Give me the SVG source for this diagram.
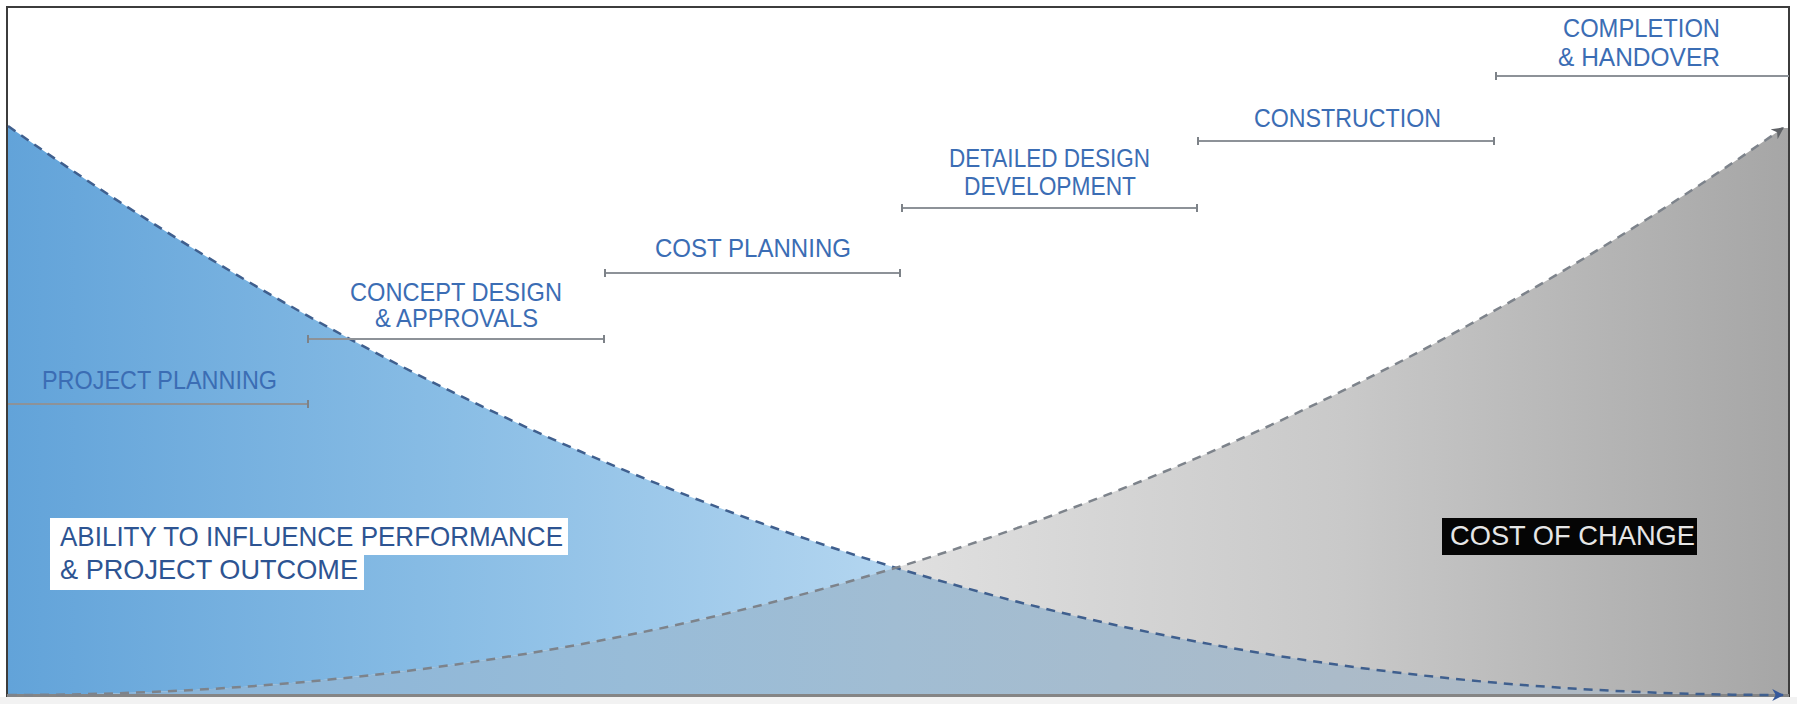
<svg xmlns="http://www.w3.org/2000/svg" width="1797" height="704" viewBox="0 0 1797 704">
  <style>
    .phase { font-family: "Liberation Sans", Arial, sans-serif; font-size: 25px; fill: #3b6db4; text-anchor: middle; }
    .callout { font-family: "Liberation Sans", Arial, sans-serif; font-size: 28px; }
    .span { fill: none; stroke: #8d9298; stroke-width: 2; }
    .tick { fill: none; stroke: #7d8288; stroke-width: 2; }
    .curve { fill: none; stroke-width: 2.5; stroke-dasharray: 9 7; }
  </style>
  <defs>
    <linearGradient id="blueFill" gradientUnits="userSpaceOnUse" x1="8" y1="0" x2="898" y2="0">
      <stop offset="0" stop-color="#62a3d9"/>
      <stop offset="0.5" stop-color="#89bde5"/>
      <stop offset="1" stop-color="#b4d6f0"/>
    </linearGradient>
    <linearGradient id="grayFill" gradientUnits="userSpaceOnUse" x1="898" y1="0" x2="1789" y2="0">
      <stop offset="0" stop-color="#e0e0e0"/>
      <stop offset="0.5" stop-color="#c9c9c9"/>
      <stop offset="1" stop-color="#a6a6a6"/>
    </linearGradient>
    <linearGradient id="overlapFill" gradientUnits="userSpaceOnUse" x1="8" y1="0" x2="1783" y2="0">
      <stop offset="0" stop-color="#84b1d8"/>
      <stop offset="0.35" stop-color="#98bcd8"/>
      <stop offset="0.5" stop-color="#a1bdd3"/>
      <stop offset="0.75" stop-color="#abbbc9"/>
      <stop offset="1" stop-color="#b1b7be"/>
    </linearGradient>
    <marker id="arrowBlue" viewBox="0 0 10 10" refX="9" refY="5" markerWidth="12" markerHeight="12" markerUnits="userSpaceOnUse" orient="auto">
      <path d="M0,0 L10,5 L0,10 L3,5 Z" fill="#35589a"/>
    </marker>
    <marker id="arrowGray" viewBox="0 0 10 10" refX="9" refY="5" markerWidth="12" markerHeight="12" markerUnits="userSpaceOnUse" orient="auto">
      <path d="M0,0 L10,5 L0,10 L3,5 Z" fill="#5f6266"/>
    </marker>
  </defs>

  <rect x="0" y="0" width="1797" height="704" fill="#ffffff"/>

  <!-- filled areas under the two curves -->
  <g id="areas">
    <path d="M8,126 C599.67,545 1191.33,695 1783,695 L8,695 Z" fill="url(#blueFill)"/>
    <path d="M8,695 C599.67,695 1191.33,545 1783,128 L1789,128 L1789,695 Z" fill="url(#grayFill)"/>
    <path d="M8,695 C303.83,695 599.67,657.5 895.5,567.63 C1191.33,657.5 1487.17,695 1783,695 Z" fill="url(#overlapFill)"/>
  </g>

  <!-- frame and time axis -->
  <g id="frame">
    <rect x="7" y="7" width="1782" height="689" fill="none" stroke="#3c3c3c" stroke-width="2"/>
    <rect x="0" y="697" width="1797" height="7" fill="#f2f2f2"/>
    <line x1="7" y1="695.5" x2="1789" y2="695.5" stroke="#858585" stroke-width="3"/>
  </g>

  <g id="connectors">
    <!-- ability to influence: falling curve -->
    <path class="curve" d="M8,126 C599.67,545 1191.33,695 1783,695" stroke="#3f5f8e" marker-end="url(#arrowBlue)"/>
    <!-- cost of change: rising curve -->
    <path class="curve" d="M8,695 C599.67,695 1191.33,545 1783,128" stroke="#7d838b" marker-end="url(#arrowGray)"/>

    <!-- stage spans -->
    <g id="span-project-planning">
      <line class="span" x1="8" y1="404" x2="308" y2="404"/>
      <line class="tick" x1="308" y1="400" x2="308" y2="408"/>
    </g>
    <g id="span-concept">
      <line class="span" x1="308" y1="339" x2="604" y2="339"/>
      <line class="tick" x1="308" y1="335" x2="308" y2="343"/>
      <line class="tick" x1="604" y1="335" x2="604" y2="343"/>
    </g>
    <g id="span-cost">
      <line class="span" x1="605" y1="273" x2="900" y2="273"/>
      <line class="tick" x1="605" y1="269" x2="605" y2="277"/>
      <line class="tick" x1="900" y1="269" x2="900" y2="277"/>
    </g>
    <g id="span-detailed">
      <line class="span" x1="902" y1="208" x2="1197" y2="208"/>
      <line class="tick" x1="902" y1="204" x2="902" y2="212"/>
      <line class="tick" x1="1197" y1="204" x2="1197" y2="212"/>
    </g>
    <g id="span-construction">
      <line class="span" x1="1198" y1="141" x2="1494" y2="141"/>
      <line class="tick" x1="1198" y1="137" x2="1198" y2="145"/>
      <line class="tick" x1="1494" y1="137" x2="1494" y2="145"/>
    </g>
    <g id="span-completion">
      <line class="span" x1="1496" y1="76" x2="1789" y2="76"/>
      <line class="tick" x1="1496" y1="72" x2="1496" y2="80"/>
    </g>
  </g>

  <!-- stage labels -->
  <g id="project-planning">
    <text class="phase" x="159.5" y="389" textLength="235" lengthAdjust="spacingAndGlyphs">PROJECT PLANNING</text>
  </g>
  <g id="concept-design">
    <text class="phase" x="456" y="301" textLength="212" lengthAdjust="spacingAndGlyphs">CONCEPT DESIGN</text>
    <text class="phase" x="456.5" y="327" textLength="163" lengthAdjust="spacingAndGlyphs">&amp; APPROVALS</text>
  </g>
  <g id="cost-planning">
    <text class="phase" x="753" y="257" textLength="196" lengthAdjust="spacingAndGlyphs">COST PLANNING</text>
  </g>
  <g id="detailed-design">
    <text class="phase" x="1049.5" y="167" textLength="201" lengthAdjust="spacingAndGlyphs">DETAILED DESIGN</text>
    <text class="phase" x="1050" y="195" textLength="172" lengthAdjust="spacingAndGlyphs">DEVELOPMENT</text>
  </g>
  <g id="construction">
    <text class="phase" x="1347.5" y="127" textLength="187" lengthAdjust="spacingAndGlyphs">CONSTRUCTION</text>
  </g>
  <g id="completion">
    <text class="phase" x="1641.5" y="37" textLength="157" lengthAdjust="spacingAndGlyphs">COMPLETION</text>
    <text class="phase" x="1639" y="66" textLength="162" lengthAdjust="spacingAndGlyphs">&amp; HANDOVER</text>
  </g>

  <!-- curve captions -->
  <g id="ability-caption">
    <rect x="50" y="518" width="518" height="37" fill="#ffffff"/>
    <rect x="50" y="553" width="314" height="37" fill="#ffffff"/>
    <text class="callout" x="60" y="546" fill="#2d5492" textLength="503" lengthAdjust="spacingAndGlyphs">ABILITY TO INFLUENCE PERFORMANCE</text>
    <text class="callout" x="60" y="579" fill="#2d5492" textLength="298" lengthAdjust="spacingAndGlyphs">&amp; PROJECT OUTCOME</text>
  </g>
  <g id="cost-caption">
    <rect x="1442" y="518" width="255" height="37" fill="#050505"/>
    <text class="callout" x="1450" y="545" fill="#e6e6e6" textLength="245" lengthAdjust="spacingAndGlyphs">COST OF CHANGE</text>
  </g>
</svg>
